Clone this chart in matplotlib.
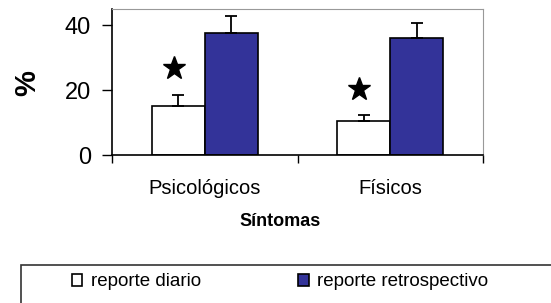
import matplotlib
matplotlib.use("Agg")
import matplotlib.pyplot as plt
import numpy as np
from matplotlib.patches import Rectangle

plt.rcParams['font.family'] = ['Liberation Sans', 'DejaVu Sans']

categories = ["Psicológicos", "Físicos"]
diario = [15.1, 10.5]
diario_err = [3.4, 1.8]
retro = [37.6, 36.1]
retro_err = [5.2, 4.6]
star_y = [26.8, 20.3]
series_names = ["reporte diario", "reporte retrospectivo"]

fig = plt.figure(figsize=(5.51, 3.03), dpi=100)
ax = fig.add_axes([112 / 551, 1 - 155 / 303, 371 / 551, 146 / 303])

x = np.arange(len(categories))
w = 0.286
err_kw = dict(ecolor="black", elinewidth=1.3, capsize=4, capthick=1.3)
b1 = ax.bar(x - w / 2, diario, w, color="white", edgecolor="black", linewidth=1.2,
            yerr=[np.zeros(2), diario_err], error_kw=err_kw, label=series_names[0])
b2 = ax.bar(x + w / 2, retro, w, color="#333399", edgecolor="black", linewidth=1.2,
            yerr=[np.zeros(2), retro_err], error_kw=err_kw, label=series_names[1])
ax.plot(x - w / 2 - 0.025, star_y, linestyle="none", marker="*", color="black", ms=17)

ax.set_xlim(-0.5, 1.5)
ax.set_ylim(0, 45)
ax.set_yticks([0, 20, 40])
ax.tick_params(axis="y", labelsize=17, length=7, width=1, direction="out", pad=8)
ax.set_xticks(x)
ax.set_xticklabels(categories)
ax.tick_params(axis="x", which="major", length=0, labelsize=14.5, pad=17)
ax.set_xticks([-0.5, 0.5, 1.5], minor=True)
ax.tick_params(axis="x", which="minor", length=6, width=1, direction="out")

for s in ["top", "right"]:
    ax.spines[s].set_color("#999999")
for s in ["left", "bottom"]:
    ax.spines[s].set_color("black")
    ax.spines[s].set_linewidth(1.2)

fig.text(27 / 551, 1 - 83 / 303, "%", rotation=90, fontsize=21, fontweight="bold",
         ha="center", va="center")
fig.text(280 / 551, 1 - 222 / 303, "Síntomas", fontsize=13, fontweight="bold",
         ha="center", va="center")

fig.patches.append(Rectangle((21 / 551, -0.1), 0.99, 1 - 265 / 303 + 0.1,
                             transform=fig.transFigure, fill=False,
                             edgecolor="#333333", linewidth=1.2))
fig.legend(handles=[b1, b2], loc="center left", bbox_to_anchor=(72 / 551, 1 - 282 / 303),
           ncol=2, frameon=False, fontsize=13.5, handlelength=0.55, handleheight=0.55,
           handletextpad=0.45, columnspacing=5.2, borderaxespad=0, borderpad=0)

fig.savefig("out.png", dpi=100)
